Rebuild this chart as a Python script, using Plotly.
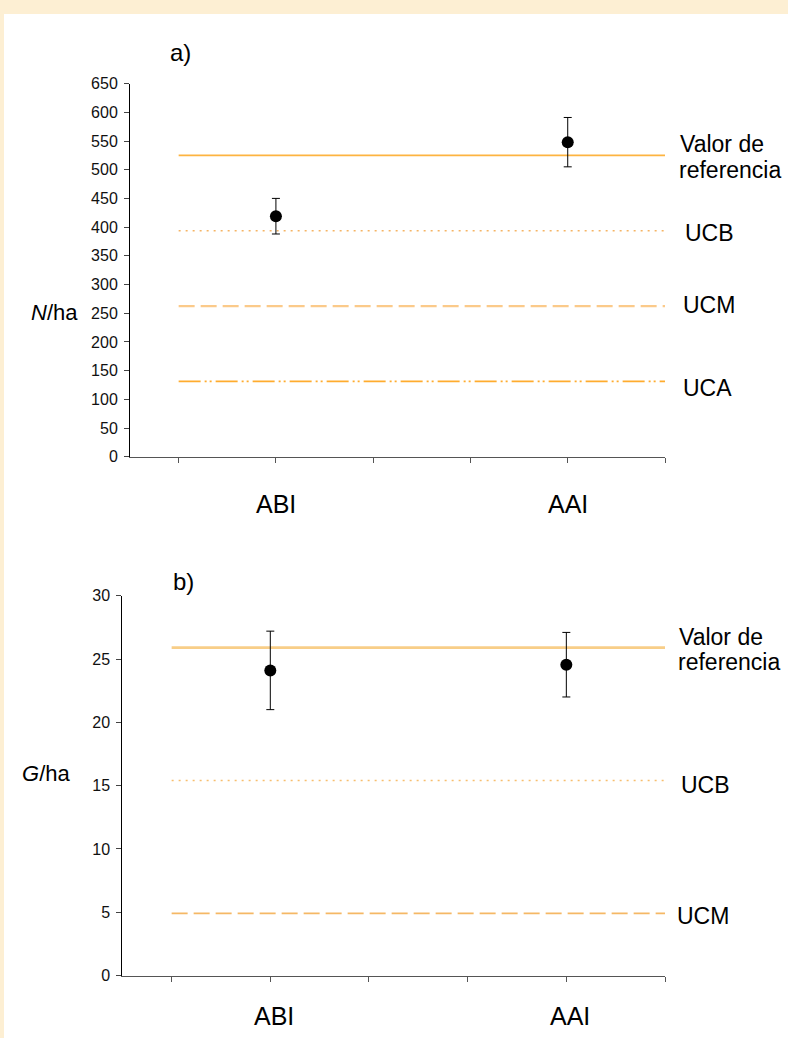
import plotly.graph_objects as go

# ---------------- data ----------------
sites = ["ABI", "AAI"]
site_x = [2, 5]
x_ticks = [1, 2, 3, 4, 5, 6]
level_x = [1, 6]

n_mean = [419, 548]
n_err = [31, 43]
n_level_names = ["Valor de referencia", "UCB", "UCM", "UCA"]
n_level_values = [525, 393.75, 262.5, 131.25]

g_mean = [24.1, 24.55]
g_err = [3.1, 2.55]
g_level_names = ["Valor de referencia", "UCB", "UCM"]
g_level_values = [25.9, 15.4, 4.9]

# ---------------- styling ----------------
W, H = 788, 1038
FONT = "Arial, Liberation Sans, sans-serif"


def px(x):
    return x / W


def py(y):
    return 1 - y / H


n_styles = {
    "Valor de referencia": dict(color="#FDB440", width=1.6, dash="solid"),
    "UCB": dict(color="#F5B464", width=1.6, dash="2px,5px"),
    "UCM": dict(color="#FBCA8A", width=2.2, dash="16px,6px"),
    "UCA": dict(color="#FFAC2E", width=1.6, dash="22px,4px,2px,3px,2px,4px"),
}
g_styles = {
    "Valor de referencia": dict(color="#F8CE88", width=2.6, dash="solid"),
    "UCB": dict(color="#F7BE6E", width=1.6, dash="2px,5px"),
    "UCM": dict(color="#F5B865", width=1.8, dash="16px,6px"),
}

fig = go.Figure()

for name, val in zip(n_level_names, n_level_values):
    fig.add_trace(go.Scatter(x=level_x, y=[val, val], mode="lines",
                             line=n_styles[name], xaxis="x", yaxis="y",
                             hoverinfo="skip", showlegend=False))
fig.add_trace(go.Scatter(x=site_x, y=n_mean, mode="markers",
                         marker=dict(color="black", size=12),
                         error_y=dict(type="data", array=n_err, color="black",
                                      thickness=1, width=4),
                         xaxis="x", yaxis="y", showlegend=False))

for name, val in zip(g_level_names, g_level_values):
    fig.add_trace(go.Scatter(x=level_x, y=[val, val], mode="lines",
                             line=g_styles[name], xaxis="x2", yaxis="y2",
                             hoverinfo="skip", showlegend=False))
fig.add_trace(go.Scatter(x=site_x, y=g_mean, mode="markers",
                         marker=dict(color="black", size=12),
                         error_y=dict(type="data", array=g_err, color="black",
                                      thickness=1, width=4),
                         xaxis="x2", yaxis="y2", showlegend=False))

xcommon = dict(range=[0.5, 6], tickvals=x_ticks, showticklabels=False,
               ticks="outside", ticklen=5, tickcolor="#555", showline=True,
               linecolor="#555", linewidth=1, showgrid=False, zeroline=False,
               automargin=False, fixedrange=True)
ycommon = dict(ticks="outside", ticklen=5, tickcolor="#444", showline=True,
               linecolor="black", linewidth=1, showgrid=False, zeroline=False,
               tickfont=dict(size=16, color="#111", family=FONT),
               automargin=False, fixedrange=True, ticklabelstandoff=3)

annotations = []


def add_text(text, x, y, size, xanchor="left", xref="paper", yref="paper",
             xshift=0, yshift=0):
    annotations.append(dict(text=text, x=x, y=y, xref=xref, yref=yref,
                            xanchor=xanchor, yanchor="middle", showarrow=False,
                            xshift=xshift, yshift=yshift,
                            font=dict(size=size, color="black", family=FONT)))


# panel labels and axis titles
add_text("a)", px(168), py(52), 24)
add_text("b)", px(170.5), py(581), 24)
add_text("<i>N</i>/ha", px(29), py(312), 22)
add_text("<i>G</i>/ha", px(20), py(773.5), 22)

# category labels
for s, xv in zip(sites, site_x):
    add_text(s, xv, 0, 25, xanchor="center", xref="x", yref="y domain",
             yshift=-47)
    add_text(s, xv, 0, 25, xanchor="center", xref="x2", yref="y2 domain",
             xshift=4, yshift=-40)

# right-hand level labels
n_shift = {"UCB": (18, -2), "UCM": (16, 1), "UCA": (16, -7)}
for name, val in zip(n_level_names, n_level_values):
    if name == "Valor de referencia":
        add_text("Valor de", 6, val, 23, xref="x", yref="y", xshift=13, yshift=11)
        add_text("referencia", 6, val, 23, xref="x", yref="y", xshift=12, yshift=-15)
    else:
        dx, dy = n_shift[name]
        add_text(name, 6, val, 23, xref="x", yref="y", xshift=dx, yshift=dy)

g_shift = {"UCB": (14, -4), "UCM": (10, -3)}
for name, val in zip(g_level_names, g_level_values):
    if name == "Valor de referencia":
        add_text("Valor de", 6, val, 23, xref="x2", yref="y2", xshift=12, yshift=11)
        add_text("referencia", 6, val, 23, xref="x2", yref="y2", xshift=11, yshift=-14)
    else:
        dx, dy = g_shift[name]
        add_text(name, 6, val, 23, xref="x2", yref="y2", xshift=dx, yshift=dy)

fig.update_layout(
    width=W, height=H,
    margin=dict(l=0, r=0, t=0, b=0, pad=0),
    paper_bgcolor="#FDEFD3",
    plot_bgcolor="rgba(0,0,0,0)",
    font=dict(family=FONT, color="black"),
    xaxis=dict(domain=[px(130), px(665)], anchor="y", **xcommon),
    yaxis=dict(domain=[py(456.7), py(83.6)], anchor="x", range=[0, 650],
               tick0=0, dtick=50, **ycommon),
    xaxis2=dict(domain=[px(122.3), px(665)], anchor="y2", **xcommon),
    yaxis2=dict(domain=[py(975.5), py(595.7)], anchor="x2", range=[0, 30],
                tick0=0, dtick=5, **ycommon),
    shapes=[dict(type="rect", xref="paper", yref="paper", x0=px(4), x1=1.01,
                 y0=-0.01, y1=py(14), fillcolor="white", line=dict(width=0),
                 layer="below")],
    annotations=annotations,
    showlegend=False,
)

fig.write_html(
    "out.html",
    config={"displayModeBar": False},
    post_script="document.body.style.margin='0px';document.body.style.overflow='hidden';",
)
